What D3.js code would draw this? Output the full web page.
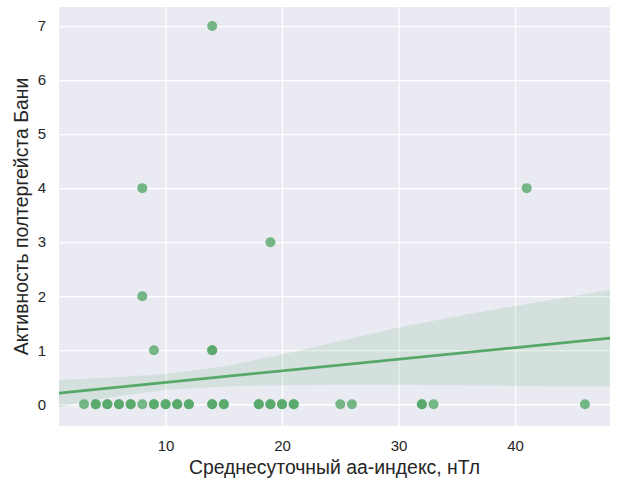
<!DOCTYPE html>
<html>
<head>
<meta charset="utf-8">
<script src="https://cdn.jsdelivr.net/npm/d3@7"></script>
<style>
  body { margin: 0; background: #fff; }
  text { font-family: "Liberation Sans", Arial, sans-serif; fill: #262626; }
</style>
</head>
<body>
<div id="chart"></div>
<script>
// scatter points: aa-index (nT) vs poltergeist activity
var aaIndex = [3, 4, 4, 5, 5, 6, 6, 7, 7, 8, 9, 9, 10, 10, 11, 11, 12, 12,
               14, 14, 15, 15, 18, 18, 19, 19, 20, 20, 21, 21, 25, 26, 32, 32, 33, 46,
               14, 8, 41, 19, 8, 9, 14, 14];
var activity = [0, 0, 0, 0, 0, 0, 0, 0, 0, 0, 0, 0, 0, 0, 0, 0, 0, 0,
                0, 0, 0, 0, 0, 0, 0, 0, 0, 0, 0, 0, 0, 0, 0, 0, 0, 0,
                7, 4, 4, 3, 2, 1, 1, 1];

// regression line
var fitIntercept = 0.189,
    fitSlope = 0.0215;

// confidence band edges
var ciX    = [0.85, 5, 10, 15, 20, 25, 30, 35, 40, 45, 48.15];
var ciLow  = [-0.05, 0.12, 0.27, 0.33, 0.35, 0.36, 0.36, 0.35, 0.34, 0.33, 0.33];
var ciHigh = [0.45, 0.49, 0.56, 0.7, 0.92, 1.17, 1.42, 1.63, 1.82, 2.0, 2.12];

var xTicks = [10, 20, 30, 40];
var yTicks = [0, 1, 2, 3, 4, 5, 6, 7];

var xLabel = 'Среднесуточный аа-индекс, нТл',
    yLabel = 'Активность полтергейста Бани';

var width = 640,
    height = 480;
var margin = { left: 59, top: 7, right: 30, bottom: 54 };
var green = '#55a868';

var points = aaIndex.map(function (x, i) { return { x: x, y: activity[i] }; });
var band = ciX.map(function (x, i) { return { x: x, lo: ciLow[i], hi: ciHigh[i] }; });

// 5% padding like matplotlib autoscale
var xExt = d3.extent(aaIndex);
var xPad = (xExt[1] - xExt[0]) * 0.05;
var yMin = Math.min(d3.min(activity), d3.min(ciLow)),
    yMax = Math.max(d3.max(activity), d3.max(ciHigh));
var yPad = (yMax - yMin) * 0.05;

var xScale = d3.scaleLinear()
    .domain([xExt[0] - xPad, xExt[1] + xPad])
    .range([margin.left, width - margin.right]);
var yScale = d3.scaleLinear()
    .domain([yMin - yPad, yMax + yPad])
    .range([height - margin.bottom, margin.top]);

var svg = d3.select('#chart').append('svg')
    .attr('width', width)
    .attr('height', height);

svg.append('rect')
    .attr('x', margin.left)
    .attr('y', margin.top)
    .attr('width', width - margin.left - margin.right)
    .attr('height', height - margin.top - margin.bottom)
    .attr('fill', '#eaeaf2');

// grid via axes with long ticks
var xAxis = d3.axisBottom(xScale).tickValues(xTicks).tickFormat(d3.format('d'))
    .tickSize(-(height - margin.top - margin.bottom)).tickPadding(14);
var yAxis = d3.axisLeft(yScale).tickValues(yTicks).tickFormat(d3.format('d'))
    .tickSize(-(width - margin.left - margin.right)).tickPadding(13);

var gx = svg.append('g')
    .attr('transform', 'translate(0,' + (height - margin.bottom) + ')')
    .call(xAxis);
var gy = svg.append('g')
    .attr('transform', 'translate(' + margin.left + ',0)')
    .call(yAxis);

[gx, gy].forEach(function (g) {
    g.select('.domain').remove();
    g.selectAll('.tick line').attr('stroke', '#fff').attr('stroke-width', 1.3);
    g.selectAll('.tick text').style('font-size', '15px').attr('fill', '#262626');
});

// band
var area = d3.area()
    .x(function (d) { return xScale(d.x); })
    .y0(function (d) { return yScale(d.lo); })
    .y1(function (d) { return yScale(d.hi); });

svg.append('path')
    .datum(band)
    .attr('d', area)
    .attr('fill', green)
    .attr('fill-opacity', 0.15);

// scatter
svg.selectAll('.dot')
    .data(points)
    .enter()
    .append('circle')
    .attr('class', 'dot')
    .attr('cx', function (d) { return xScale(d.x); })
    .attr('cy', function (d) { return yScale(d.y); })
    .attr('r', 5)
    .attr('fill', green)
    .attr('fill-opacity', 0.8);

// fitted line across the whole x range
var lineX = xScale.domain();
var line = d3.line()
    .x(function (d) { return xScale(d); })
    .y(function (d) { return yScale(fitIntercept + fitSlope * d); });

svg.append('path')
    .datum(lineX)
    .attr('d', line)
    .attr('fill', 'none')
    .attr('stroke', green)
    .attr('stroke-width', 2.7);

// axis labels
svg.append('text')
    .attr('x', (margin.left + width - margin.right) / 2)
    .attr('y', 474)
    .attr('text-anchor', 'middle')
    .style('font-size', '19.4px')
    .text(xLabel);

svg.append('text')
    .attr('transform', 'translate(28,' + ((margin.top + height - margin.bottom) / 2) + ') rotate(-90)')
    .attr('text-anchor', 'middle')
    .style('font-size', '19.4px')
    .text(yLabel);
</script>
</body>
</html>
